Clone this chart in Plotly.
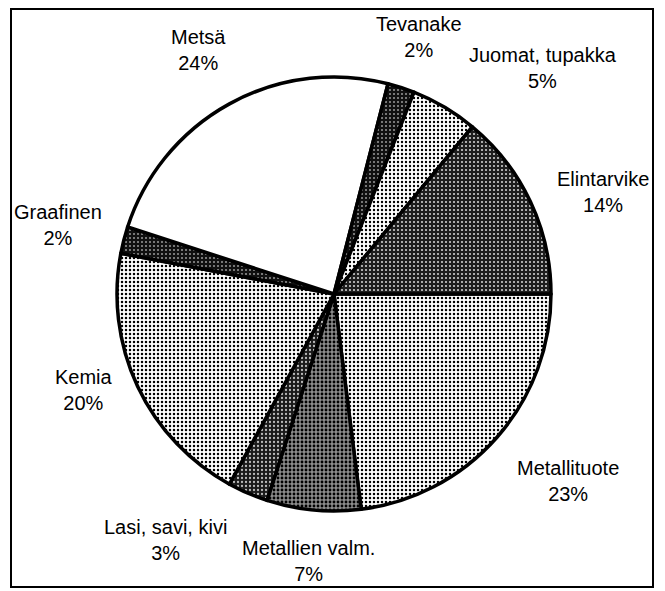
import plotly.graph_objects as go

labels = ["Metallituote", "Metallien valm.", "Lasi, savi, kivi", "Kemia", "Graafinen",
          "Metsä", "Tevanake", "Juomat, tupakka", "Elintarvike"]
values = [23, 7, 3, 20, 2, 24, 2, 5, 14]
pct_text = ["23%", "7%", "3%", "20%", "2%", "24%", "2%", "5%", "14%"]

# page body has an 8px margin; figure is sized to fit the window
OFF = 8
W, H = 665 - OFF, 591 - OFF

def fx(px):
    return (px - OFF) / W

def fy(py):
    return 1 - (py - OFF) / H

# fill styles (background, dot colour, solidity)
bg = ["white", "#8c8c8c", "#1a1a1a", "white", "#101010", "white", "#101010", "white", "#1e1e1e"]
fg = ["black", "black", "#bbbbbb", "black", "#999999", "white", "#999999", "black", "#d0d0d0"]
sol = [0.3, 0.4, 0.25, 0.3, 0.2, 0.0, 0.2, 0.28, 0.22]
shapes_p = ["." if s > 0 else "" for s in sol]

fig = go.Figure()
cx, cy, r = 334, 294, 217
fig.add_trace(go.Pie(
    labels=labels, values=values, sort=False, direction="clockwise", rotation=90,
    textinfo="none", hoverinfo="label+percent",
    marker=dict(colors=bg, line=dict(color="black", width=3.5),
                pattern=dict(shape=shapes_p, fgcolor=fg, bgcolor=bg, size=4, solidity=sol,
                             fillmode="replace")),
    domain=dict(x=[fx(cx - r), fx(cx + r)], y=[fy(cy + r), fy(cy - r)]),
    showlegend=False,
))

# label positions in screen pixels (center of the two-line block)
label_px = [(568, 481), (308, 561), (165, 540), (84, 390), (58, 225),
            (198, 50), (419, 37), (543, 68), (603, 192)]
for lab, p, (px, py) in zip(labels, pct_text, label_px):
    fig.add_annotation(x=fx(px), y=fy(py), xref="paper", yref="paper",
                       text=f"{lab}<br>{p}", showarrow=False, align="center",
                       xanchor="center", yanchor="middle",
                       font=dict(family="Liberation Sans, Arial", size=20, color="black"))

fig.add_shape(type="rect", xref="paper", yref="paper", layer="above",
              x0=fx(11), x1=fx(653), y0=fy(587), y1=fy(9),
              line=dict(color="black", width=2))

fig.update_layout(width=W, height=H, margin=dict(l=0, r=0, t=0, b=0),
                  paper_bgcolor="white", plot_bgcolor="white")
fig.write_html("out.html")
